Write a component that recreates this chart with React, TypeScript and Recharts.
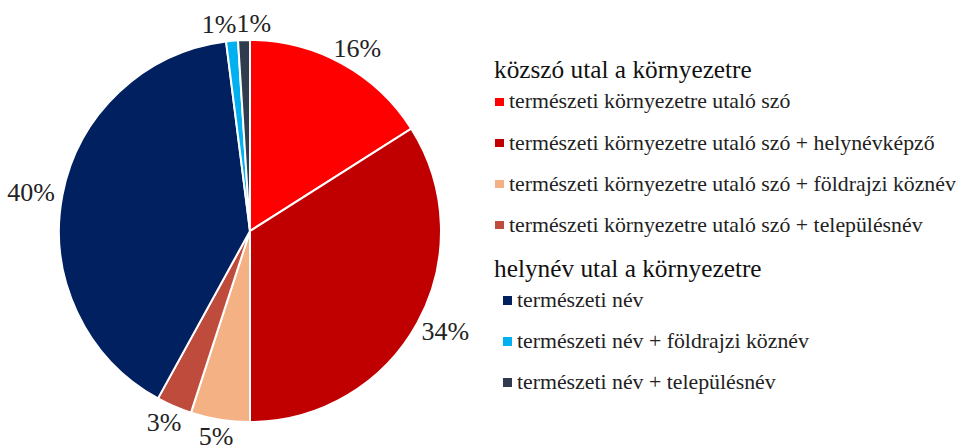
import React from 'react';
import { PieChart, Pie, Cell, Legend } from 'recharts';

document.body.style.margin = '0';

const categories = [
    'természeti környezetre utaló szó',
    'természeti környezetre utaló szó + helynévképző',
    'természeti környezetre utaló szó + földrajzi köznév',
    'természeti környezetre utaló szó + településnév',
    'természeti név',
    'természeti név + földrajzi köznév',
    'természeti név + településnév',
];
const shares = [16, 34, 5, 3, 40, 1, 1];
const groups = [0, 0, 0, 0, 1, 1, 1];
const groupTitles = ['közszó utal a környezetre', 'helynév utal a környezetre'];
const colors = ['#FF0000', '#C00000', '#F4B183', '#BE4B3C', '#002060', '#00B0F0', '#303C4E'];

const data = categories.map((name, i) => ({ name, value: shares[i] }));

const FONT = '"Liberation Serif", "Times New Roman", serif';
const RAD = Math.PI / 180;
const LABEL_SIZE = 26;
const LABEL_GAP = 8;

// Excel-like "outside end" labels: box touches a circle just outside the pie,
// then neighbouring boxes that collide are pushed apart sideways.
const layoutLabels = (cx: number, cy: number, r: number) => {
    const total = shares.reduce((a, b) => a + b, 0);
    let acc = 0;
    const boxes = shares.map((v) => {
        const mid = 90 - ((acc + v / 2) / total) * 360;
        acc += v;
        const dx = Math.cos(mid * RAD);
        const dy = -Math.sin(mid * RAD);
        const w = (String(v).length * 0.5 + 0.833) * LABEL_SIZE;
        const h = 0.7 * LABEL_SIZE;
        return {
            x: cx + (r + LABEL_GAP) * dx + (dx * w) / 2,
            y: cy + (r + LABEL_GAP) * dy + (dy * h) / 2,
            w,
            h,
        };
    });
    for (let pass = 0; pass < 4; pass++) {
        for (let i = 0; i < boxes.length; i++) {
            for (let j = i + 1; j < boxes.length; j++) {
                const a = boxes[i];
                const b = boxes[j];
                const ox = (a.w + b.w) / 2 - Math.abs(b.x - a.x);
                const oy = (a.h + b.h) / 2 - Math.abs(b.y - a.y);
                if (ox > 0 && oy > 0) {
                    const s = b.x >= a.x ? 1 : -1;
                    a.x -= (s * ox) / 2;
                    b.x += (s * ox) / 2;
                }
            }
        }
    }
    return boxes;
};

const renderLabel = ({ cx, cy, outerRadius, index, value }: any) => {
    const box = layoutLabels(cx, cy, outerRadius)[index];
    return (
        <text
            x={box.x}
            y={box.y + 0.34 * LABEL_SIZE}
            fill="#222"
            fontSize={LABEL_SIZE}
            fontFamily={FONT}
            textAnchor="middle"
        >
            {`${value}%`}
        </text>
    );
};

const GroupedLegend = ({ payload }: any) => {
    if (!payload) return null;
    const items = [...payload].sort((a: any, b: any) => categories.indexOf(a.value) - categories.indexOf(b.value));
    const rows: React.ReactNode[] = [];
    items.forEach((entry: any, i: number) => {
        const g = groups[i];
        if (i === 0 || groups[i - 1] !== g) {
            rows.push(
                <div key={`h${g}`} style={{ fontSize: 25.3, height: 24, lineHeight: '24px', marginTop: g === 0 ? 0 : 10, color: '#111' }}>
                    {groupTitles[g]}
                </div>
            );
        }
        rows.push(
            <div key={entry.value} style={{ display: 'flex', alignItems: 'center', height: 41.1, paddingLeft: g === 0 ? 1 : 9, fontSize: 21.8, color: '#222' }}>
                <span style={{ width: 8.5, height: 8.5, background: entry.color, marginRight: 5.5, flex: 'none' }} />
                <span>{entry.value}</span>
            </div>
        );
    });
    return <div style={{ fontFamily: FONT, whiteSpace: 'nowrap' }}>{rows}</div>;
};

export default function App() {
    return (
        <div style={{ width: 964, height: 445, background: '#fff' }}>
            <PieChart width={964} height={445} margin={{ top: 0, right: 0, bottom: 0, left: 0 }}>
                <Pie
                    data={data}
                    dataKey="value"
                    nameKey="name"
                    cx={250}
                    cy={231}
                    outerRadius={191}
                    startAngle={90}
                    endAngle={-270}
                    stroke="#fff"
                    strokeWidth={2}
                    label={renderLabel}
                    labelLine={false}
                    isAnimationActive={false}
                >
                    {data.map((d, i) => (
                        <Cell key={d.name} fill={colors[i]} />
                    ))}
                </Pie>
                <Legend
                    content={<GroupedLegend />}
                    wrapperStyle={{ position: 'absolute', left: 494, top: 57.4, width: 470 }}
                />
            </PieChart>
        </div>
    );
}
